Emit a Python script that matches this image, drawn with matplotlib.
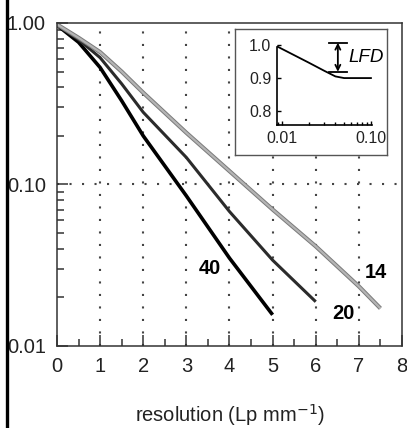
import matplotlib.pyplot as plt
import matplotlib.patheffects as pe
from matplotlib.lines import Line2D
from matplotlib.patches import Rectangle
from matplotlib.ticker import FixedLocator, NullFormatter, LogLocator

plt.rcParams['font.family'] = ['Liberation Sans', 'DejaVu Sans']

# curves (log scale)
x14 = [0, 0.5, 1, 1.5, 2, 3, 4, 5, 6, 7, 7.5]
y14 = [0.98, 0.81, 0.66, 0.50, 0.37, 0.209, 0.121, 0.070, 0.0414, 0.0234, 0.0171]
x20 = [0, 0.5, 1, 1.5, 2, 3, 4, 5, 6]
y20 = [0.97, 0.79, 0.61, 0.42, 0.28, 0.147, 0.068, 0.034, 0.0188]
x40 = [0, 0.5, 1, 1.5, 2, 3, 4, 5]
y40 = [0.97, 0.76, 0.53, 0.33, 0.20, 0.085, 0.035, 0.0156]

yticks = [0.01, 0.10, 1.00]
ytick_labels = ['0.01', '0.10', '1.00']
xticks = [0, 1, 2, 3, 4, 5, 6, 7, 8]

# inset curve
xin = [0.009, 0.02, 0.03, 0.04, 0.05, 0.07, 0.10]
yin = [0.995, 0.947, 0.922, 0.905, 0.90, 0.90, 0.90]
inset_yticks = [0.8, 0.9, 1.0]
inset_xticks = [0.01, 0.10]

fig = plt.figure(figsize=(4.07, 4.28), dpi=100)
ax = fig.add_axes([0.140, 0.1916, 0.8477, 0.7547])

ax.plot(x40, y40, color='black', lw=2.6, solid_capstyle='butt')
ax.plot(x20, y20, color='#2b2b2b', lw=2.2, solid_capstyle='butt')
ax.plot(x14, y14, color='#b4b4b4', lw=1.6, solid_capstyle='butt',
        path_effects=[pe.Stroke(linewidth=3.0, foreground='#7a7a7a'), pe.Normal()])

ax.set_yscale('log')
ax.set_xlim(0, 8)
ax.set_ylim(0.01, 1.0)
ax.set_xticks(xticks)
ax.set_xticklabels([str(t) for t in xticks])
ax.xaxis.set_minor_locator(FixedLocator([t + 0.5 for t in xticks[:-1]]))
ax.set_yticks(yticks)
ax.set_yticklabels(ytick_labels)
ax.yaxis.set_minor_locator(LogLocator(base=10, subs=range(2, 10)))
ax.yaxis.set_minor_formatter(NullFormatter())
ax.tick_params(which='major', direction='in', length=8, width=1.1, color='#333333',
               labelsize=14.5, labelcolor='#222222', pad=8)
ax.tick_params(which='minor', direction='in', length=5, width=1.1, color='#333333')
for s in ax.spines.values():
    s.set_color('#333333')
    s.set_linewidth(1.1)

for t in xticks[1:-1]:
    ax.axvline(t, color='#444444', lw=1.5, ls=(0, (1, 5)), zorder=0)
ax.axhline(0.10, color='#444444', lw=1.5, ls=(0, (1, 5)), zorder=0)

ax.set_xlabel('resolution (Lp mm$^{-1}$)', fontsize=14.5, color='#222222', labelpad=19)

ax.text(3.55, 0.0300, '40', fontsize=14.5, fontweight='bold', ha='center', va='center')
ax.text(6.64, 0.0160, '20', fontsize=14.5, fontweight='bold', ha='center', va='center')
ax.text(7.40, 0.0284, '14', fontsize=14.5, fontweight='bold', ha='center', va='center')

# inset box
box = fig.add_axes([0.5774, 0.6379, 0.3735, 0.2944])
box.set_xticks([])
box.set_yticks([])
box.set_facecolor('white')
for s in box.spines.values():
    s.set_color('#555555')
    s.set_linewidth(1.0)

axi = fig.add_axes([0.6806, 0.7079, 0.2327, 0.1939])
axi.patch.set_alpha(0)
axi.plot(xin, yin, color='black', lw=1.3)
axi.set_xscale('log')
axi.set_xlim(0.00887, 0.102)
axi.set_ylim(0.758, 1.009)
axi.spines['top'].set_visible(False)
axi.spines['right'].set_visible(False)
axi.spines['left'].set_bounds(0.758, 0.995)
for s in ['left', 'bottom']:
    axi.spines[s].set_linewidth(1.2)
axi.set_xticks(inset_xticks)
axi.set_xticklabels(['0.01', '0.10'])
axi.xaxis.set_minor_formatter(NullFormatter())
axi.set_yticks(inset_yticks)
axi.set_yticklabels(['0.8', '0.9', '1.0'])
axi.tick_params(which='major', direction='in', length=3, width=1, labelsize=11.5,
                labelcolor='#222222', pad=4)
axi.tick_params(which='minor', direction='in', length=2.5, width=1)

# LFD marker
axi.annotate('', xy=(0.0426, 0.919), xytext=(0.0426, 1.007),
             arrowprops=dict(arrowstyle='<->', color='black', lw=1.3,
                             shrinkA=0, shrinkB=0, mutation_scale=9),
             annotation_clip=False)
axi.plot([0.034, 0.054], [1.007, 1.007], color='black', lw=1.3, clip_on=False)
axi.plot([0.034, 0.054], [0.919, 0.919], color='black', lw=1.3, clip_on=False)
axi.text(0.056, 0.963, 'LFD', fontsize=13.5, fontstyle='italic', ha='left',
         va='center')

# picture is cut on the left: white margin and thick black border line
fig.add_artist(Rectangle((0, 0), 5.5 / 407, 1, color='white', zorder=5,
                         transform=fig.transFigure))
fig.add_artist(Line2D([6.5 / 407, 6.5 / 407], [0, 1], color='black', lw=2.4,
                      zorder=6, transform=fig.transFigure))

fig.savefig('out.png', dpi=100)
